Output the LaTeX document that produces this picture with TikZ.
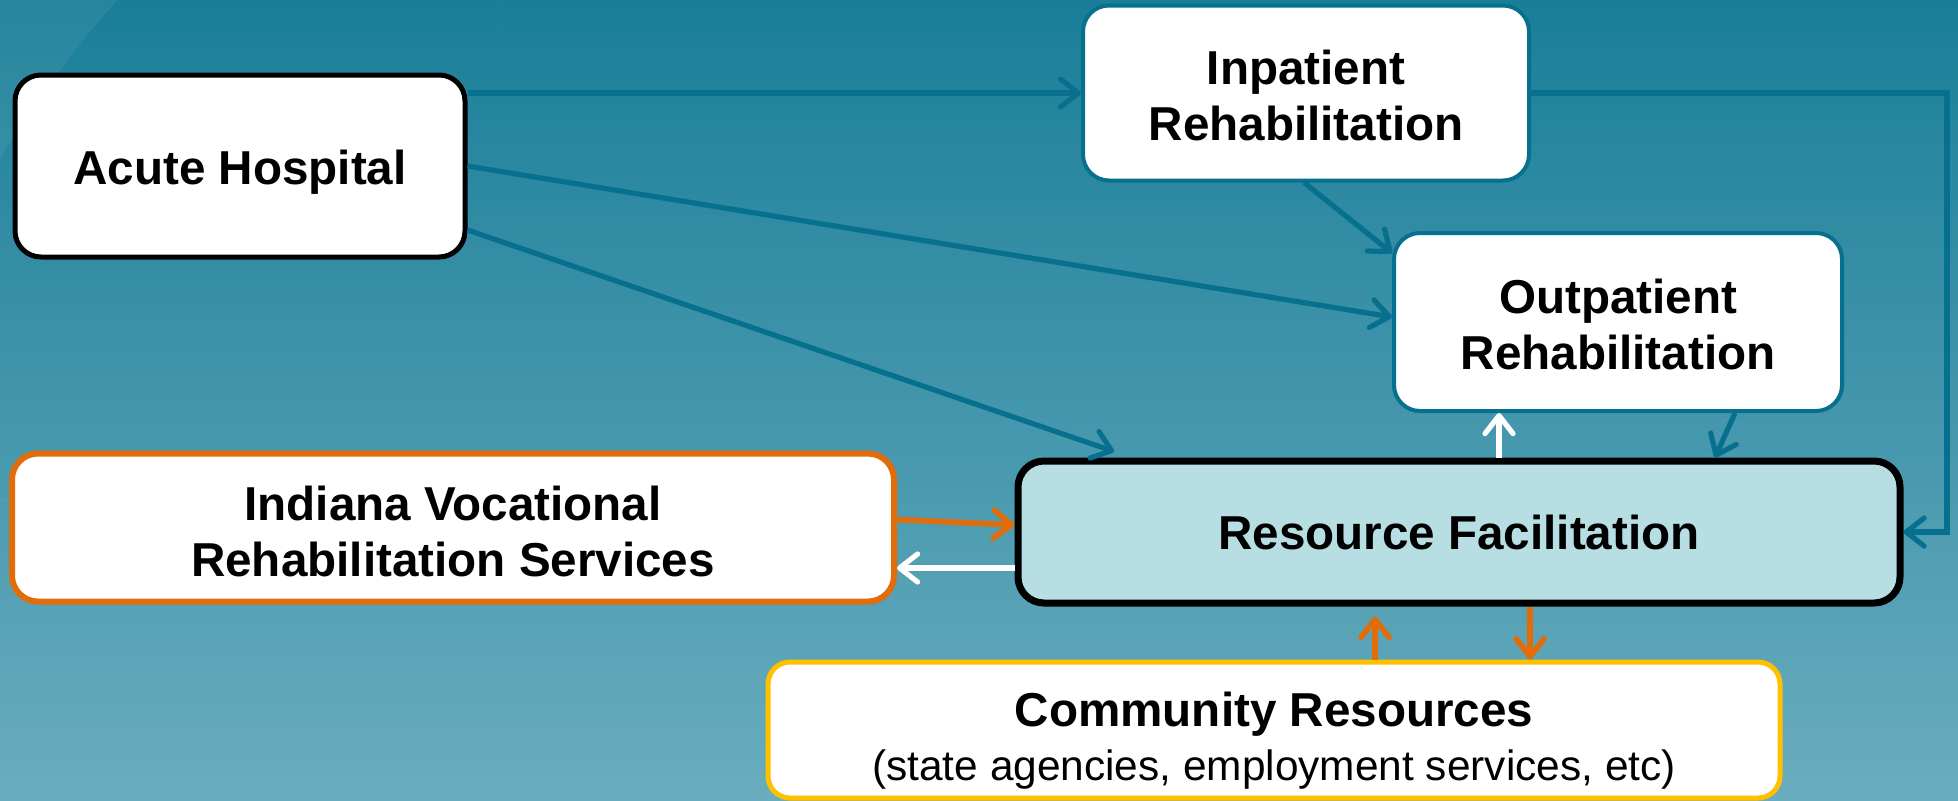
\documentclass[tikz,border=0pt]{standalone}
\usepackage{fontspec}
\setmainfont{Liberation Sans}
\usetikzlibrary{arrows.meta,calc}
\definecolor{bgtop}{HTML}{1A7E99}
\definecolor{bgbot}{HTML}{6AADBE}
\definecolor{arrblue}{HTML}{08708F}
\definecolor{orng}{HTML}{E36C0A}
\definecolor{gold}{HTML}{FFC000}
\definecolor{rffill}{HTML}{B7DFE3}
\tikzset{
  box/.style={rounded corners=13pt, fill=white, align=center, font=\bfseries\fontsize{23.8}{28}\selectfont, inner sep=0pt},
  blackbox/.style={box, draw=black, line width=2.5pt},
  bluebox/.style={box, draw=arrblue, line width=2pt},
  orangebox/.style={box, draw=orng, line width=3pt},
  rfbox/.style={box, draw=black, line width=3.5pt, fill=rffill},
  goldbox/.style={box, draw=gold, line width=2.5pt, rounded corners=11pt},
  tip/.style={-{Straight Barb[length=9pt,width=14pt,round]}},
  bluearr/.style={tip, draw=arrblue, line width=2.6pt},
  whitearr/.style={tip, draw=white, line width=2.6pt},
  orangearr/.style={tip, draw=orng, line width=2.8pt},
}
\begin{document}
\begin{tikzpicture}[x=0.5pt,y=-0.5pt]
\useasboundingbox (0,0) rectangle (1958,800);
\clip (0,0) rectangle (1958,800);
\shade[top color=bgtop, bottom color=bgbot] (0,0) rectangle (1958,800);
\begin{scope}
  \clip (0,0) rectangle (500,500);
  \fill[white, opacity=0.06, even odd rule] (0,0) rectangle (500,500) (900,700) circle[radius=1050];
\end{scope}

\node[blackbox, minimum width=225pt, minimum height=91pt] (acute) at (240,166) {\rule{0pt}{23.5pt}Acute Hospital};
\node[bluebox, minimum width=223pt, minimum height=87.5pt] (inpat) at (1306,93) {\rule{0pt}{19.8pt}Inpatient\\Rehabilitation};
\node[bluebox, minimum width=224pt, minimum height=89pt] (outpat) at (1618,322) {\rule{0pt}{19.3pt}Outpatient\\Rehabilitation};
\node[orangebox, minimum width=441pt, minimum height=74pt] (indiana) at (453,527.5) {\rule{0pt}{21.3pt}Indiana Vocational\\Rehabilitation Services};
\node[rfbox, minimum width=441pt, minimum height=71pt] (resource) at (1459,532) {Resource Facilitation};
\node[goldbox, minimum width=506pt, minimum height=68pt] (community) at (1274,730) {\rule{0pt}{27.5pt}Community Resources\\[-1pt]{\mdseries\fontsize{21.2}{25}\selectfont (state agencies, employment services, etc)}};

\coordinate (loopc) at (1947,532);

\draw[bluearr] (acute.east |- inpat.west) -- (inpat.west);
\draw[bluearr] (acute.east) -- ([yshift=2.5pt]outpat.west);
\draw[bluearr] ([yshift=-32pt]acute.east) -- ([xshift=-172.5pt,yshift=3pt]resource.north);
\draw[bluearr] ([xshift=-1pt]inpat.south) -- ([yshift=34.5pt]outpat.west);
\draw[bluearr] (inpat.east) -| (loopc) -- (resource.east);
\draw[whitearr] ([xshift=20pt]resource.north) -- ([xshift=20pt]resource.north |- outpat.south);
\draw[bluearr] ([xshift=58.5pt]outpat.south) -- ([xshift=128pt]resource.north);
\draw[orangearr] ([yshift=4pt]indiana.east) -- ([yshift=3.5pt]resource.west);
\draw[whitearr] ([yshift=-18pt]resource.west) -- ([yshift=-18pt]indiana.east |- resource.west);
\draw[orangearr] ([xshift=-42pt]resource.south |- community.north) -- ([xshift=-42pt,yshift=-5pt]resource.south);
\draw[orangearr] ([xshift=35.5pt]resource.south) -- ([xshift=35.5pt]resource.south |- community.north);
\end{tikzpicture}
\end{document}
